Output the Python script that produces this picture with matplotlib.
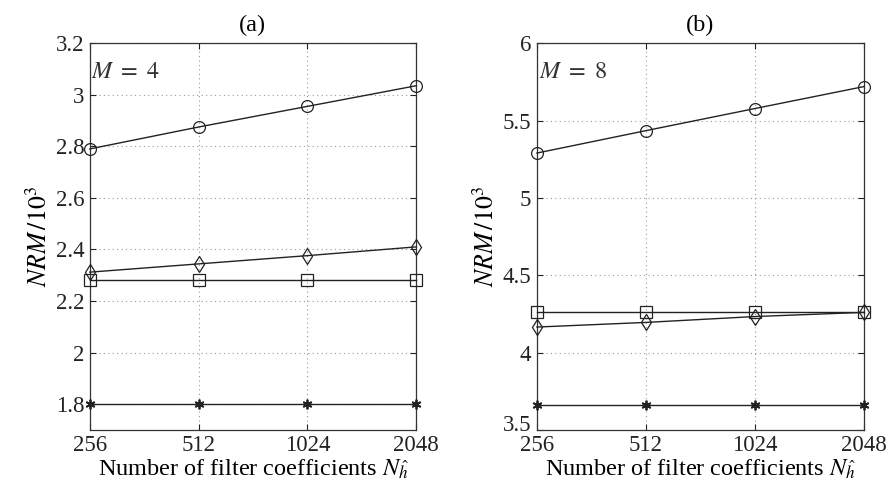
import matplotlib
matplotlib.use("Agg")
import matplotlib.pyplot as plt
import matplotlib.transforms as mtransforms
import numpy as np

plt.rcParams['font.family'] = ['Liberation Serif', 'DejaVu Serif']
plt.rcParams['mathtext.fontset'] = 'stix'

x_labels = ['256', '512', '1024', '2048']
N = [256, 512, 1024, 2048]

# panel (a), M = 4
a_circle = [2.79, 2.875, 2.955, 3.035]
a_diamond = [2.312, 2.344, 2.376, 2.41]
a_square = [2.28, 2.28, 2.28, 2.28]
a_star = [1.80, 1.80, 1.80, 1.80]

# panel (b), M = 8
b_circle = [5.29, 5.435, 5.578, 5.72]
b_diamond = [4.165, 4.195, 4.233, 4.26]
b_square = [4.26, 4.26, 4.26, 4.26]
b_star = [3.66, 3.66, 3.66, 3.66]

fig = plt.figure(figsize=(8.89, 4.97), dpi=100)
ax1 = fig.add_axes([0.101, 0.135, 0.367, 0.778])
ax2 = fig.add_axes([0.604, 0.135, 0.368, 0.778])

col = '#222222'
fs_tick = 16.5
fs_lab = 17.5

def draw(ax, series, ylim, yticks, yticklabels, title, mtext):
    xs = np.log2(N)
    for vals, mk in series:
        if mk == '*':
            ax.plot(xs, vals, color=col, lw=1.0, marker=(6, 2, 0), markersize=7,
                    markeredgecolor=col, markeredgewidth=1.3, clip_on=False, zorder=3)
        else:
            ax.plot(xs, vals, color=col, lw=1.0, marker=mk, markersize=8.5,
                    markerfacecolor='none', markeredgecolor=col, markeredgewidth=0.9,
                    clip_on=False, zorder=3)
    ax.set_xlim(xs[0], xs[-1])
    ax.set_ylim(*ylim)
    ax.set_xticks(xs)
    ax.set_xticklabels(x_labels, fontsize=fs_tick)
    ax.set_yticks(yticks)
    ax.set_yticklabels(yticklabels, fontsize=fs_tick)
    ax.tick_params(direction='in', top=True, right=True, length=4, width=0.8, colors='#222222', pad=4)
    ax.grid(True, linestyle=(0, (1, 3)), color='#999999', linewidth=0.8)
    for s in ax.spines.values():
        s.set_color('#333333')
        s.set_linewidth(0.9)
    ax.set_title(title, fontsize=fs_lab, pad=9)
    ax.set_xlabel(r'Number of filter coefficients $N_{\hat{h}}$', fontsize=fs_lab, labelpad=1)
    ax.set_ylabel(r'$NRM\,/10^3$', fontsize=fs_lab + 1, labelpad=3)
    ax.text(0.005, 0.925, mtext, transform=ax.transAxes, fontsize=fs_lab, va='center', ha='left', color='#333333')

draw(ax1, [(a_circle, 'o'), (a_diamond, 'd'), (a_square, 's'), (a_star, '*')],
     (1.7, 3.2), [1.8, 2.0, 2.2, 2.4, 2.6, 2.8, 3.0, 3.2],
     ['1.8', '2', '2.2', '2.4', '2.6', '2.8', '3', '3.2'], '(a)', r'$M\ =\ 4$')
draw(ax2, [(b_circle, 'o'), (b_diamond, 'd'), (b_square, 's'), (b_star, '*')],
     (3.5, 6.0), [3.5, 4.0, 4.5, 5.0, 5.5, 6.0],
     ['3.5', '4', '4.5', '5', '5.5', '6'], '(b)', r'$M\ =\ 8$')

# nudge the lowest y label of panel (b) up slightly so it sits above "256"
lbl = ax2.get_yticklabels()[0]
lbl.set_transform(lbl.get_transform() + mtransforms.ScaledTranslation(0, 5 / 72, fig.dpi_scale_trans))

fig.savefig('out.png', dpi=100)
